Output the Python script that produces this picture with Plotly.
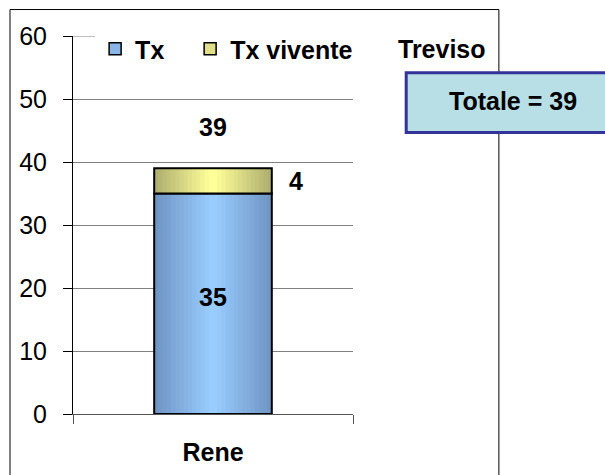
import plotly.graph_objects as go

# Data
categories = ["Rene"]
tx = [35]
tx_vivente = [4]
series_names = ["Tx", "Tx vivente"]
region = "Treviso"

totals = [a + b for a, b in zip(tx, tx_vivente)]
grand_total = sum(totals)

FONT = "Liberation Sans"
LABEL_SIZE = 25
BAR_W = 0.42
STEPS = 14


def lerp(c1, c2, t):
    return "rgb(%d,%d,%d)" % tuple(round(a + (b - a) * t) for a, b in zip(c1, c2))


def shaded_bar(values, base, edge_rgb, centre_rgb, name, legend_pad=0):
    """Nested bars of shrinking width that fake a horizontal gradient, plus an outline."""
    traces = []
    for k in range(STEPS):
        t = k / (STEPS - 1)
        w = BAR_W * (1 - k / STEPS)
        traces.append(go.Bar(
            x=categories, y=values, base=base, width=w,
            marker=dict(color=lerp(edge_rgb, centre_rgb, t), line=dict(width=0)),
            name=name, showlegend=False, hoverinfo="skip",
        ))
    traces.append(go.Bar(
        x=categories, y=values, base=base, width=BAR_W,
        marker=dict(color="rgba(0,0,0,0)", line=dict(color="black", width=2)),
        name=name, showlegend=False, hoverinfo="skip",
    ))
    # legend entry only
    traces.append(go.Bar(
        x=categories, y=[None] * len(categories),
        name=name + "&nbsp;" * legend_pad, showlegend=True,
        marker=dict(color=lerp(edge_rgb, centre_rgb, 0.6),
                    line=dict(color="black", width=1.5)),
    ))
    return traces


fig = go.Figure()
for tr in shaded_bar(tx, [0] * len(tx), (112, 150, 196), (153, 204, 255),
                     series_names[0], legend_pad=3):
    fig.add_trace(tr)
for tr in shaded_bar(tx_vivente, tx, (176, 176, 112), (255, 255, 153), series_names[1]):
    fig.add_trace(tr)

lbl_font = dict(size=LABEL_SIZE, color="black", family=FONT, weight="bold")
annotations = []
for cat, a, b, tot in zip(categories, tx, tx_vivente, totals):
    annotations.append(dict(x=cat, y=a / 2, text=str(a), showarrow=False,
                            yshift=7, font=lbl_font))
    annotations.append(dict(x=cat, y=a + b / 2, text=str(b), showarrow=False,
                            xshift=83, font=lbl_font))
    annotations.append(dict(x=cat, y=tot, text=str(tot), showarrow=False,
                            yshift=41, font=lbl_font))

annotations.append(dict(xref="paper", yref="paper", x=1.3196, y=0.9656,
                        xanchor="center", yanchor="middle",
                        text=region, showarrow=False, font=lbl_font))
annotations.append(dict(xref="paper", yref="paper", x=1.571, y=0.828,
                        xanchor="center", yanchor="middle",
                        text="Totale = %d" % grand_total,
                        showarrow=False, font=lbl_font))

shapes = [
    # top gridline (mostly hidden behind the legend)
    dict(type="line", xref="paper", yref="y", x0=0, x1=1, y0=60, y1=60,
         line=dict(color="#808080", width=1), layer="below"),
    # outer chart frame
    dict(type="rect", xref="paper", yref="paper", x0=-0.225, x1=1.521,
         y0=-0.3, y1=1.070, line=dict(color="black", width=1), fillcolor="rgba(0,0,0,0)"),
    # total box
    dict(type="rect", xref="paper", yref="paper", x0=1.19, x1=1.98,
         y0=0.745, y1=0.903, line=dict(color="#333399", width=3), fillcolor="#B9DFE6"),
]

fig.update_layout(
    width=605, height=475,
    margin=dict(l=73, r=252, t=36, b=61),
    paper_bgcolor="white", plot_bgcolor="white",
    barmode="overlay",
    font=dict(family=FONT, color="black"),
    showlegend=True,
    legend=dict(orientation="h", x=0.079, y=0.9656, xanchor="left", yanchor="middle",
                bgcolor="white", font=dict(size=LABEL_SIZE, family=FONT, weight="bold"),
                itemwidth=30, traceorder="normal"),
    annotations=annotations,
    shapes=shapes,
    xaxis=dict(range=[-0.5, 0.5], showgrid=False, showline=True, linecolor="#555555",
               ticks="outside", tickson="boundaries", ticklen=9, tickcolor="#555555",
               tickfont=dict(size=LABEL_SIZE, family=FONT, weight="bold"),
               fixedrange=True, ticklabelstandoff=16, automargin=False),
    yaxis=dict(range=[0, 60], dtick=10, showgrid=True, gridcolor="#808080", gridwidth=1,
               showline=True, linecolor="black", ticks="outside", ticklen=9,
               tickcolor="black", tickfont=dict(size=25, family=FONT), zeroline=False,
               ticklabelstandoff=11, automargin=False),
)

fig.write_html("out.html")
